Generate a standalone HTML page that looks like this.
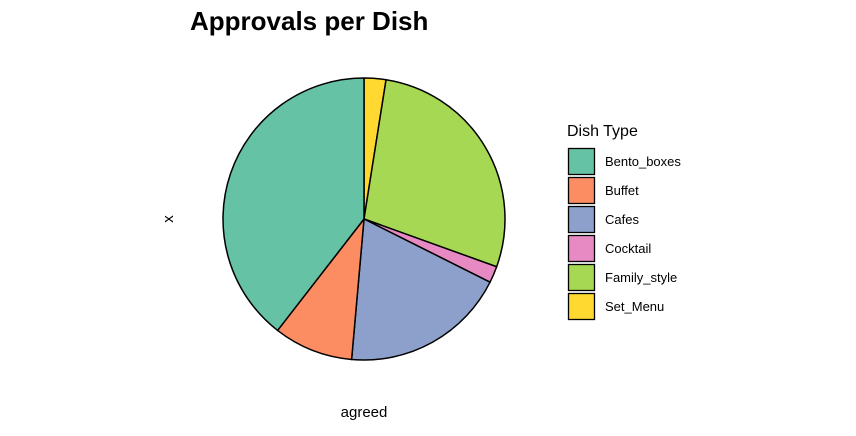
<!DOCTYPE html>
<html><head><meta charset="utf-8"><style>
body{margin:0;background:#fff;}
svg text{font-family:"Liberation Sans",sans-serif;}
</style></head><body>
<svg id="chart" width="856" height="431">
<rect width="856" height="431" fill="#fff"/>
<text x="190" y="30" font-size="26" font-weight="bold">Approvals per Dish</text>
<text x="0" y="0" font-size="15" text-anchor="middle" transform="translate(173,219) rotate(-90)">x</text>
<text x="364" y="417" font-size="15" text-anchor="middle">agreed</text>
<g id="slices"></g>
<text x="567" y="136" font-size="16">Dish Type</text>
<g id="legend"></g>
</svg>
<script>
const categories=["Set_Menu","Family_style","Cocktail","Cafes","Buffet","Bento_boxes"];
const values=[25,280,19,190,91,395];
const legendOrder=["Bento_boxes","Buffet","Cafes","Cocktail","Family_style","Set_Menu"];
const colors={Bento_boxes:"#66C2A5",Buffet:"#FC8D62",Cafes:"#8DA0CB",Cocktail:"#E78AC3",Family_style:"#A6D854",Set_Menu:"#FFD92F"};
const NS="http://www.w3.org/2000/svg";
const cx=364,cy=219,r=141;
const total=values.reduce((a,b)=>a+b,0);
function pt(a){return [cx+r*Math.sin(a),cy-r*Math.cos(a)];}
const g=document.getElementById('slices');
let acc=0;
categories.forEach((c,i)=>{
 const a0=acc/total*2*Math.PI;acc+=values[i];const a1=acc/total*2*Math.PI;
 const p0=pt(a0),p1=pt(a1);const large=(a1-a0)>Math.PI?1:0;
 const p=document.createElementNS(NS,'path');
 p.setAttribute('d',`M${cx},${cy}L${p0[0]},${p0[1]}A${r},${r} 0 ${large} 1 ${p1[0]},${p1[1]}Z`);
 p.setAttribute('fill',colors[c]);p.setAttribute('stroke','#000');p.setAttribute('stroke-width','1.5');p.setAttribute('stroke-linejoin','round');
 
 
 g.appendChild(p);
});
const lg=document.getElementById('legend');
legendOrder.forEach((c,i)=>{
 const y=148+i*29;
 const rc=document.createElementNS(NS,'rect');
 rc.setAttribute('x',568.5);rc.setAttribute('y',y+0.5);rc.setAttribute('width',26);rc.setAttribute('height',26);
 rc.setAttribute('fill',colors[c]);rc.setAttribute('stroke','#000');rc.setAttribute('stroke-width','1.3');
 
 
 lg.appendChild(rc);
 const t=document.createElementNS(NS,'text');
 t.setAttribute('x',605);t.setAttribute('y',y+18);t.setAttribute('font-size','13');t.textContent=c;
 
 
 lg.appendChild(t);
});
</script>
</body></html>
